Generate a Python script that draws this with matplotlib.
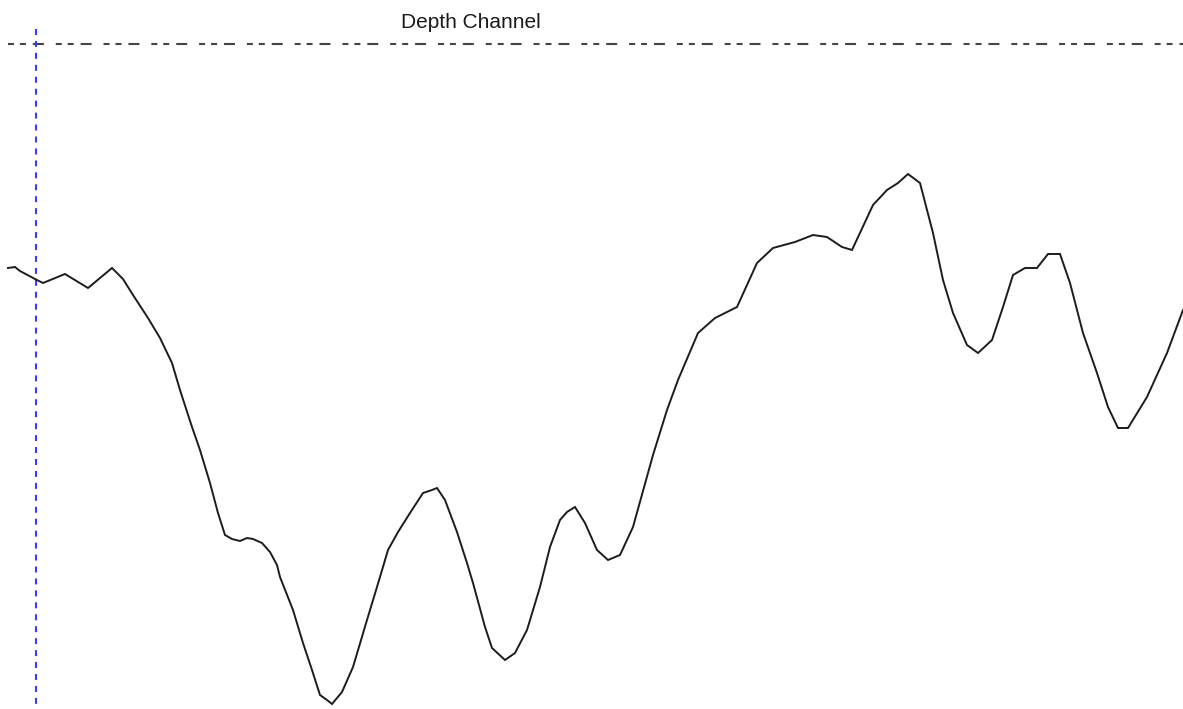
import matplotlib
matplotlib.use("Agg")
import matplotlib.pyplot as plt

plt.rcParams['lines.scale_dashes'] = False

# Depth profile along the track (distance, depth)
distance = [8, 15, 20, 35, 43, 65, 88, 112, 123, 133, 148, 160, 172, 180, 192, 200,
            210, 218, 225, 232, 240, 247, 253, 262, 270, 277, 280, 293, 303, 312, 320,
            327, 332, 342, 353, 367, 380, 388, 398, 410, 423, 432, 437, 445, 457, 467,
            473, 485, 492, 505, 515, 527, 540, 550, 560, 567, 575, 585, 597, 608, 620,
            633, 653, 667, 678, 698, 715, 737, 757, 773, 795, 813, 827, 842, 852, 873,
            887, 898, 908, 920, 933, 943, 953, 967, 978, 992, 1003, 1013, 1025, 1037,
            1048, 1060, 1070, 1083, 1097, 1108, 1118, 1128, 1147, 1167, 1183]
depth = [268, 267, 271, 279, 283, 274, 288, 268, 279, 295, 318, 338, 363, 390, 427, 450,
         483, 513, 535, 539, 541, 538, 539, 543, 552, 565, 577, 610, 643, 670, 695,
         700, 704, 692, 667, 620, 577, 550, 532, 513, 493, 490, 488, 500, 532, 563,
         583, 627, 648, 660, 653, 630, 587, 547, 520, 512, 507, 523, 550, 560, 555,
         527, 455, 410, 380, 333, 318, 307, 263, 248, 242, 235, 237, 247, 250, 205,
         190, 183, 174, 183, 233, 280, 313, 345, 353, 340, 307, 275, 268, 268,
         254, 254, 283, 333, 373, 407, 428, 428, 397, 353, 310]

channel_depth = 44
channel_span = (8, 1183)
marker_distance = 36
marker_top = 29
title = "Depth Channel"

W, H = 1183, 709
fig = plt.figure(figsize=(W / 100, H / 100), dpi=100)
ax = fig.add_axes([0, 0, 1, 1])
ax.set_xlim(0, W)
ax.set_ylim(H, 0)
ax.axis('off')

# channel reference line (dash-dash-long pattern)
ax.plot(channel_span, [channel_depth, channel_depth], color='#454545', lw=1.5,
        linestyle=(0, (4.3, 4.3, 4.3, 5.0, 7.9, 8.6)), dash_capstyle='butt')

# current position marker
ax.plot([marker_distance, marker_distance], [marker_top, H], color='#3b3bff', lw=1.5,
        linestyle=(0, (4.3, 4.3)), dash_capstyle='butt')

# bottom profile
ax.plot(distance, depth, color='#1c1c1c', lw=1.4, solid_joinstyle='miter')

ax.text(401, 28, title, ha='left', va='baseline', fontsize=15,
        family=['Liberation Sans', 'DejaVu Sans'], color='#1a1a1a')

fig.savefig('out.png', dpi=100, facecolor='white')
